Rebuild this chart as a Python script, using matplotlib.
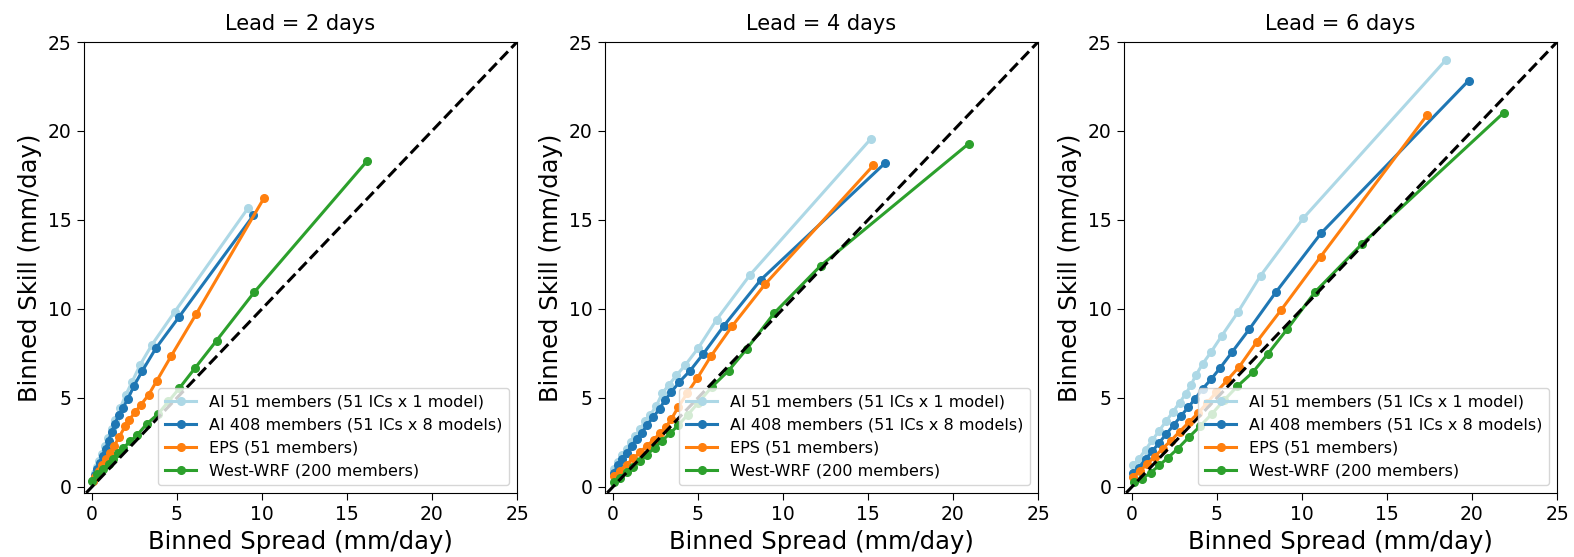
import matplotlib
matplotlib.use('Agg')
import matplotlib.pyplot as plt

# binned spread (x) / binned skill (y), mm/day
# lead = 2 days
ai51_x_2 = [0.05, 0.15, 0.28, 0.42, 0.58, 0.75, 0.95, 1.15, 1.38, 1.65, 1.99, 2.35, 2.84, 3.53, 4.87, 9.2]
ai51_y_2 = [0.4, 0.75, 1.1, 1.45, 1.85, 2.3, 2.75, 3.25, 3.75, 4.4, 5.17, 5.88, 6.87, 7.99, 9.84, 15.69]
ai408_x_2 = [0.05, 0.15, 0.3, 0.45, 0.62, 0.8, 0.98, 1.16, 1.36, 1.56, 1.81, 2.11, 2.48, 2.97, 3.76, 5.1, 9.5]
ai408_y_2 = [0.35, 0.65, 1.0, 1.35, 1.75, 2.15, 2.6, 3.1, 3.55, 4.01, 4.42, 4.94, 5.69, 6.53, 7.79, 9.52, 15.26]
eps_x_2 = [0.05, 0.2, 0.4, 0.6, 0.82, 1.05, 1.3, 1.6, 1.95, 2.2, 2.54, 2.88, 3.33, 3.82, 4.67, 6.13, 10.13]
eps_y_2 = [0.3, 0.55, 0.9, 1.2, 1.55, 1.9, 2.3, 2.8, 3.4, 3.77, 4.2, 4.61, 5.17, 5.97, 7.37, 9.71, 16.25]
wrf_x_2 = [0.0, 0.3, 0.67, 1.0, 1.26, 1.55, 1.85, 2.25, 2.64, 3.23, 3.9, 4.5, 5.14, 6.05, 7.33, 9.53, 16.17]
wrf_y_2 = [0.3, 0.7, 1.02, 1.3, 1.58, 1.9, 2.2, 2.55, 2.89, 3.54, 4.1, 4.8, 5.54, 6.66, 8.22, 10.92, 18.3]

# lead = 4 days
ai51_x_4 = [0.08, 0.3, 0.55, 0.8, 1.05, 1.3, 1.6, 1.9, 2.2, 2.55, 2.9, 3.29, 3.73, 4.26, 5.01, 6.09, 8.07, 15.17]
ai51_y_4 = [1.0, 1.4, 1.8, 2.15, 2.5, 2.85, 3.25, 3.7, 4.05, 4.55, 5.26, 5.73, 6.26, 6.85, 7.79, 9.39, 11.92, 19.56]
ai408_x_4 = [0.05, 0.3, 0.55, 0.8, 1.1, 1.4, 1.7, 2.0, 2.35, 2.74, 3.04, 3.43, 3.89, 4.54, 5.31, 6.53, 8.7, 16.02]
ai408_y_4 = [0.8, 1.2, 1.55, 1.9, 2.3, 2.7, 3.05, 3.45, 3.9, 4.38, 4.85, 5.32, 5.88, 6.53, 7.47, 9.06, 11.64, 18.21]
eps_x_4 = [0.05, 0.4, 0.8, 1.2, 1.6, 2.0, 2.4, 2.75, 3.1, 3.43, 3.85, 4.38, 4.97, 5.76, 7.0, 8.95, 15.31]
eps_y_4 = [0.6, 0.9, 1.25, 1.6, 1.95, 2.3, 2.65, 3.0, 3.35, 3.8, 4.5, 5.28, 6.12, 7.34, 9.02, 11.39, 18.06]
wrf_x_4 = [0.08, 0.4, 0.8, 1.2, 1.6, 2.0, 2.45, 2.9, 3.35, 3.83, 4.4, 5.0, 5.8, 6.8, 7.87, 9.49, 12.21, 20.93]
wrf_y_4 = [0.27, 0.5, 0.82, 1.12, 1.45, 1.8, 2.2, 2.6, 3.0, 3.45, 4.05, 4.7, 5.6, 6.53, 7.75, 9.77, 12.42, 19.29]

# lead = 6 days
ai51_x_6 = [0.05, 0.4, 0.8, 1.2, 1.6, 2.0, 2.4, 2.8, 3.16, 3.46, 3.75, 4.15, 4.64, 5.29, 6.22, 7.56, 10.07, 18.47]
ai51_y_6 = [1.2, 1.56, 2.09, 2.62, 3.15, 3.68, 4.2, 4.73, 5.22, 5.7, 6.26, 6.9, 7.56, 8.5, 9.8, 11.86, 15.09, 24.0]
ai408_x_6 = [0.05, 0.4, 0.8, 1.2, 1.6, 2.0, 2.45, 2.9, 3.3, 3.71, 4.15, 4.64, 5.17, 5.88, 6.91, 8.45, 11.12, 19.8]
ai408_y_6 = [0.75, 1.07, 1.54, 2.0, 2.48, 2.94, 3.47, 4.0, 4.46, 4.94, 5.5, 6.03, 6.66, 7.56, 8.87, 10.92, 14.25, 22.83]
eps_x_6 = [0.05, 0.45, 0.9, 1.35, 1.8, 2.3, 2.8, 3.36, 3.9, 4.4, 4.95, 5.59, 6.32, 7.35, 8.79, 11.1, 17.38]
eps_y_6 = [0.55, 0.88, 1.28, 1.7, 2.15, 2.6, 3.1, 3.64, 4.15, 4.7, 5.3, 5.98, 6.76, 8.16, 9.96, 12.94, 20.92]
wrf_x_6 = [0.1, 0.6, 1.1, 1.6, 2.1, 2.7, 3.36, 4.0, 4.7, 5.4, 6.2, 7.11, 7.99, 9.14, 10.78, 13.55, 21.86]
wrf_y_6 = [0.25, 0.45, 0.8, 1.2, 1.62, 2.15, 2.8, 3.4, 4.1, 4.85, 5.65, 6.44, 7.47, 8.87, 10.96, 13.67, 21.02]

leads = [2, 4, 6]
data = {
    2: [(ai51_x_2, ai51_y_2), (ai408_x_2, ai408_y_2), (eps_x_2, eps_y_2), (wrf_x_2, wrf_y_2)],
    4: [(ai51_x_4, ai51_y_4), (ai408_x_4, ai408_y_4), (eps_x_4, eps_y_4), (wrf_x_4, wrf_y_4)],
    6: [(ai51_x_6, ai51_y_6), (ai408_x_6, ai408_y_6), (eps_x_6, eps_y_6), (wrf_x_6, wrf_y_6)],
}
labels = ['AI 51 members (51 ICs x 1 model)', 'AI 408 members (51 ICs x 8 models)',
          'EPS (51 members)', 'West-WRF (200 members)']
colors = ['lightblue', 'tab:blue', 'tab:orange', 'tab:green']
ticks = [0, 5, 10, 15, 20, 25]

fig = plt.figure(figsize=(15.74, 5.57), dpi=100)
lefts = [84, 605, 1124]
for i in range(3):
    ax = fig.add_axes([lefts[i] / 1574, 64 / 557, 433 / 1574, 451 / 557])
    for (x, y), c, lab in zip(data[leads[i]], colors, labels):
        ax.plot(x, y, '-o', color=c, lw=2.2, ms=5.5, label=lab)
    ax.plot([-1, 26], [-1, 26], 'k--', lw=2.2)
    ax.set_xlim(-0.47, 25)
    ax.set_ylim(-0.35, 25)
    ax.set_xticks(ticks)
    ax.set_yticks(ticks)
    ax.tick_params(labelsize=13.5, length=5, pad=4)
    ax.set_title('Lead = %d days' % leads[i], fontsize=15, pad=9)
    ax.set_xlabel('Binned Spread (mm/day)', fontsize=17.5, labelpad=4)
    ax.set_ylabel('Binned Skill (mm/day)', fontsize=17.5, labelpad=4)
    ax.legend(loc='lower right', fontsize=11.5)

fig.savefig('out.png', dpi=100)
